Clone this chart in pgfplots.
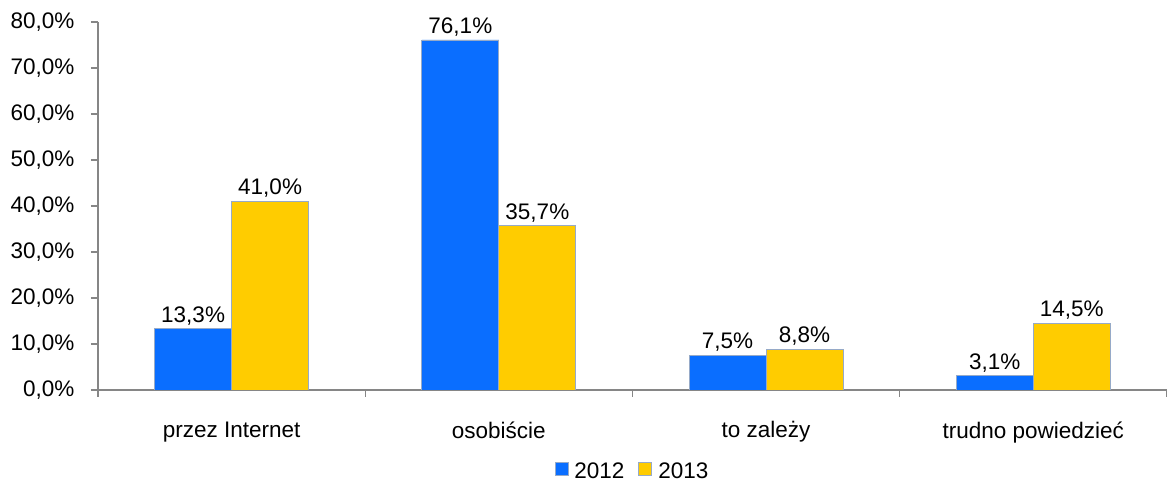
\documentclass[border=0pt]{standalone}
\usepackage{pgfplots}
\pgfplotsset{compat=1.18}
\usepackage{fontspec}
\setmainfont{Liberation Sans}
\definecolor{cblue}{RGB}{10,110,255}
\definecolor{cyel}{RGB}{255,204,0}
\definecolor{cedge}{RGB}{150,170,200}
\definecolor{caxis}{RGB}{134,134,134}
\begin{document}
\begin{tikzpicture}[x=1pt,y=1pt]
\begin{axis}[
  at={(0,0)}, anchor=south west,
  scale only axis, width=1069pt, height=368pt,
  font=\fontsize{22.5}{27}\selectfont,
  /pgf/number format/assume math mode=true,
  ybar=0pt, bar width=77pt,
  xmin=-0.5, xmax=3.5, ymin=0, ymax=80,
  axis x line*=bottom, axis y line*=left,
  axis line style={caxis, line width=1.2pt},
  xtick={0,1,2,3},
  xticklabels={przez Internet, osobiście, to zależy, trudno powiedzieć},
  major x tick style={draw=none},
  minor xtick={-0.5,0.5,1.5,2.5,3.5},
  minor x tick style={caxis, line width=1.2pt},
  tick align=outside,
  minor tick length=7pt, major tick length=7pt,
  ytick={0,10,20,30,40,50,60,70,80},
  yticklabels={{0,0\%},{10,0\%},{20,0\%},{30,0\%},{40,0\%},{50,0\%},{60,0\%},{70,0\%},{80,0\%}},
  major y tick style={caxis, line width=1.2pt},
  yticklabel style={xshift=-13pt},
  xticklabel style={yshift=-21pt},
  nodes near coords,
  point meta=explicit symbolic,
  every node near coord/.append style={font=\fontsize{22.5}{27}\selectfont, yshift=0pt},
  legend columns=2,
  legend style={draw=none, fill=none, at={(0.5,-0.22)}, anchor=center,
    font=\fontsize{22.5}{27}\selectfont,
    /tikz/every odd column/.append style={column sep=4pt},
    /tikz/every even column/.append style={column sep=12pt}},
  legend image code/.code={\fill[#1] (0pt,-4pt) rectangle (13pt,9pt);},
]
\addplot[fill=cblue, draw=cedge, line width=0.8pt] table[meta=l] {
x y l
0 13.3 {13,3\%}
1 76.1 {76,1\%}
2 7.5 {7,5\%}
3 3.1 {3,1\%}
};
\addlegendentry{2012}
\addplot[fill=cyel, draw=cedge, line width=0.8pt] table[meta=l] {
x y l
0 41.0 {41,0\%}
1 35.7 {35,7\%}
2 8.8 {8,8\%}
3 14.5 {14,5\%}
};
\addlegendentry{2013}
\end{axis}
\pgfresetboundingbox
\path[use as bounding box] (-98,-94) rectangle (1069,390);
\end{tikzpicture}
\end{document}
